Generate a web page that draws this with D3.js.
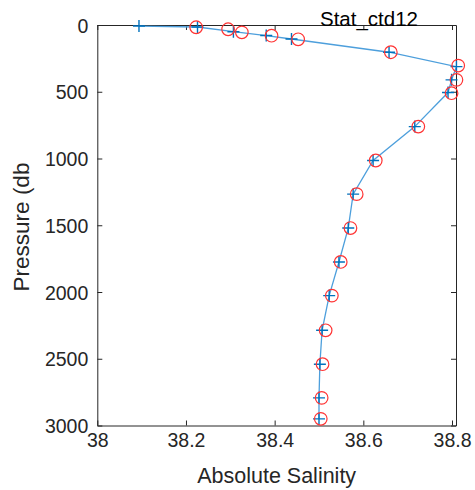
<!DOCTYPE html>
<html>
<head>
<meta charset="utf-8">
<script src="https://cdn.jsdelivr.net/npm/d3@7"></script>
<style>
  body { margin: 0; background: #fff; }
  svg { display: block; font-family: "Liberation Sans", Arial, sans-serif; }
</style>
</head>
<body>
<svg id="chart" width="475" height="490"></svg>
<script>
// profile 1 : plotted with line and + markers
var salt1 = [38.094, 38.226, 38.307, 38.381, 38.438, 38.658, 38.810, 38.799, 38.791,
             38.716, 38.622, 38.577, 38.566, 38.545, 38.523, 38.507, 38.502, 38.500, 38.500];
var pres1 = [8, 15, 50, 79, 105, 204, 312, 411, 506,
             761, 1015, 1267, 1521, 1775, 2027, 2287, 2541, 2793, 2950];

// profile 2 : red circles only
var salt2 = [38.223, 38.295, 38.326, 38.393, 38.453, 38.662, 38.814, 38.810, 38.799,
             38.724, 38.628, 38.585, 38.571, 38.549, 38.529, 38.515, 38.508, 38.506, 38.504];
var pres2 = [17, 32, 55, 80, 107, 204, 304, 411, 511,
             761, 1015, 1267, 1521, 1775, 2027, 2287, 2541, 2793, 2950];

var xTicks = [38, 38.2, 38.4, 38.6, 38.8];
var yTicks = [0, 500, 1000, 1500, 2000, 2500, 3000];

var titleText = "Stat_ctd12";
var xLabel = "Absolute Salinity";
var yLabel = "Pressure (db";

var axL = 97.3, axR = 456, axT = 25, axB = 425.5;
var axCol = "#262626";

var svg = d3.select("#chart");

var x = d3.scaleLinear().domain([38, 38.809]).range([axL, axR]);
var y = d3.scaleLinear().domain([0, 3000]).range([axT, axB]);

// axes (ticks inside, box on)
var fmtX = function(d) { return String(+d.toFixed(1)); };

var gx = svg.append("g").attr("transform", "translate(0," + axB + ")")
  .call(d3.axisBottom(x).tickValues(xTicks).tickSizeInner(-5).tickSizeOuter(0).tickFormat(fmtX));
var gxt = svg.append("g").attr("transform", "translate(0," + axT + ")")
  .call(d3.axisTop(x).tickValues(xTicks).tickSizeInner(-5).tickSizeOuter(0).tickFormat(""));
var gy = svg.append("g").attr("transform", "translate(" + axL + ",0)")
  .call(d3.axisLeft(y).tickValues(yTicks).tickSizeInner(-5).tickSizeOuter(0).tickFormat(d3.format("d")));
var gyr = svg.append("g").attr("transform", "translate(" + axR + ",0)")
  .call(d3.axisRight(y).tickValues(yTicks).tickSizeInner(-5).tickSizeOuter(0).tickFormat(""));

[gx, gxt, gy, gyr].forEach(function(g) {
  g.select(".domain").attr("stroke", axCol).attr("stroke-width", 1);
  g.selectAll(".tick line").attr("stroke", axCol).attr("stroke-width", 1);
  g.selectAll("text").attr("fill", axCol).attr("font-size", 19.5);
  g.attr("font-family", null);
});
gx.selectAll(".tick text").attr("dy", "0.71em").attr("y", 8);
gy.selectAll(".tick text").attr("dy", "0.36em").attr("x", -9);

var pts1 = salt1.map(function(s, i) { return [s, pres1[i]]; });
var pts2 = salt2.map(function(s, i) { return [s, pres2[i]]; });

// line profile 1
svg.append("path")
  .datum(pts1)
  .attr("fill", "none")
  .attr("stroke", "#4d9fdc")
  .attr("stroke-width", 1.3)
  .attr("d", d3.line().x(function(d) { return x(d[0]); }).y(function(d) { return y(d[1]); }));

// + markers
svg.append("g").selectAll("path")
  .data(pts1)
  .join("path")
  .attr("fill", "none")
  .attr("stroke", "#0072bd")
  .attr("stroke-width", 1.4)
  .attr("d", function(d) {
    var cx = x(d[0]), cy = y(d[1]), h = 6;
    return "M" + (cx - h) + "," + cy + "H" + (cx + h) + "M" + cx + "," + (cy - h) + "V" + (cy + h);
  });

// circles profile 2
svg.append("g").selectAll("circle")
  .data(pts2)
  .join("circle")
  .attr("cx", function(d) { return x(d[0]); })
  .attr("cy", function(d) { return y(d[1]); })
  .attr("r", 6.3)
  .attr("fill", "none")
  .attr("stroke", "#ff3333")
  .attr("stroke-width", 1.2);

// labels
svg.append("text")
  .attr("x", (axL + axR) / 2).attr("y", 483)
  .attr("text-anchor", "middle").attr("font-size", 21.5).attr("fill", axCol)
  .text(xLabel);

svg.append("text")
  .attr("transform", "translate(29,227) rotate(-90)")
  .attr("text-anchor", "middle").attr("font-size", 22.5).attr("fill", axCol)
  .text(yLabel);

svg.append("text")
  .attr("x", 369).attr("y", 26)
  .attr("text-anchor", "middle").attr("font-size", 20.5).attr("fill", "#000")
  .text(titleText);
</script>
</body>
</html>
